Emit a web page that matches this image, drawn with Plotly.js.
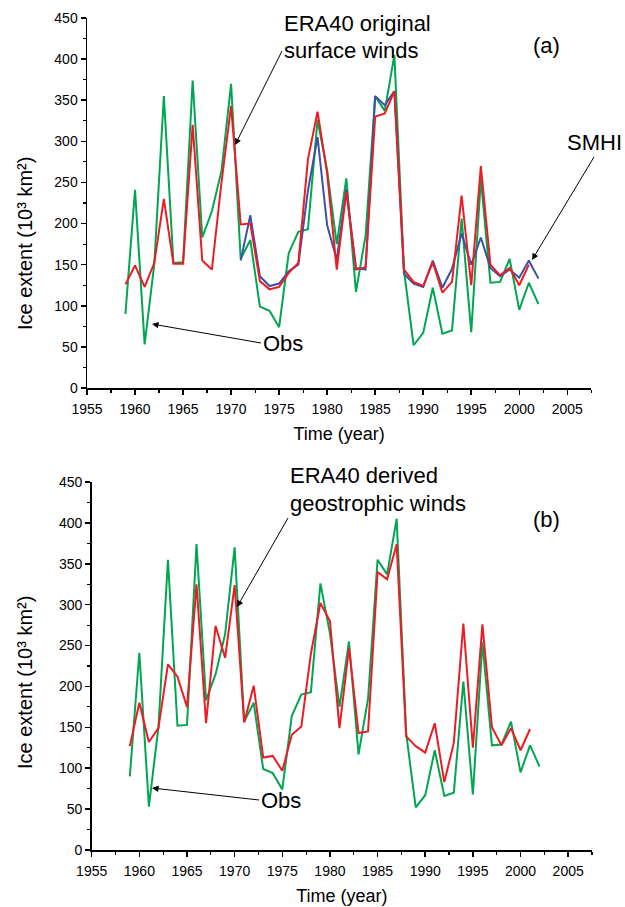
<!DOCTYPE html>
<html>
<head>
<meta charset="utf-8">
<script src="https://cdn.plot.ly/plotly-3.0.1.min.js"></script>
<style>html,body{margin:0;padding:0;background:#fff}#chart{width:625px;height:907px}</style>
</head>
<body>
<div id="chart"></div>
<script>
// ---- data ----
const years = [1959,1960,1961,1962,1963,1964,1965,1966,1967,1968,1969,1970,1971,1972,1973,1974,1975,1976,1977,1978,1979,1980,1981,1982,1983,1984,1985,1986,1987,1988,1989,1990,1991,1992,1993,1994,1995,1996,1997,1998,1999,2000,2001,2002];
const obs = [90,241,53,150,355,152,153,374,183,215,264,370,157,180,99,94,74,164,190,193,326,265,175,255,117,185,355,337,405,143,52,67,122,66,70,206,68,254,128,129,157,95,128,102];
const modelYears = [1959,1960,1961,1962,1963,1964,1965,1966,1967,1968,1969,1970,1971,1972,1973,1974,1975,1976,1977,1978,1979,1980,1981,1982,1983,1984,1985,1986,1987,1988,1989,1990,1991,1992,1993,1994,1995,1996,1997,1998,1999,2000,2001];
const era40Surface = [126,149,123,152,230,151,151,320,155,144,250,343,199,200,130,120,123,140,152,278,336,261,144,239,144,147,330,334,361,144,129,124,153,116,129,234,125,270,150,137,146,125,150];
const smhiYears = [1971,1972,1973,1974,1975,1976,1977,1978,1979,1980,1981,1982,1983,1984,1985,1986,1987,1988,1989,1990,1991,1992,1993,1994,1995,1996,1997,1998,1999,2000,2001,2002];
const smhi = [155,210,136,124,127,142,150,240,305,198,156,242,146,144,355,344,361,139,127,123,155,122,145,188,150,183,146,136,144,134,155,133];
const era40Geo = [127,180,132,149,227,212,175,325,155,274,235,324,156,201,113,115,97,141,151,240,302,280,149,247,143,145,340,331,374,139,127,119,155,83,131,277,125,276,150,128,149,122,148];
const xTickVals = [1955,1960,1965,1970,1975,1980,1985,1990,1995,2000,2005];
const yTickVals = [0,50,100,150,200,250,300,350,400,450];

// ---- geometry helpers (pixel -> paper) ----
const W = 625, H = 907, L = 87, R = 32, T = 18, B = 57;
const pw = W - L - R, ph = H - T - B;
const px = x => (x - L) / pw;
const py = y => (H - B - y) / ph;

const GREEN = '#00A651', RED = '#ED1C24', BLUE = '#3A53A4';
const FONT = 'Liberation Sans, Arial, sans-serif';

const traces = [
  {x: years, y: obs, xaxis: 'x', yaxis: 'y', mode: 'lines', line: {color: GREEN, width: 2}, name: 'Obs'},
  {x: smhiYears, y: smhi, xaxis: 'x', yaxis: 'y', mode: 'lines', line: {color: BLUE, width: 2}, name: 'SMHI'},
  {x: modelYears, y: era40Surface, xaxis: 'x', yaxis: 'y', mode: 'lines', line: {color: RED, width: 2}, name: 'ERA40 original surface winds'},
  {x: years, y: obs, xaxis: 'x2', yaxis: 'y2', mode: 'lines', line: {color: GREEN, width: 2}, name: 'Obs'},
  {x: modelYears, y: era40Geo, xaxis: 'x2', yaxis: 'y2', mode: 'lines', line: {color: RED, width: 2}, name: 'ERA40 derived geostrophic winds'}
];

function xAxis(domain, anchor) {
  return {
    domain: domain, anchor: anchor, range: [1955, 2007.5],
    tickmode: 'array', tickvals: xTickVals,
    showline: true, linecolor: 'black', linewidth: 1.5,
    ticks: 'outside', ticklen: 5, tickwidth: 1.5, tickcolor: 'black',
    minor: {dtick: 2.5, tick0: 1955, ticklen: 3, tickwidth: 1.2, tickcolor: 'black', ticks: 'outside'},
    showgrid: false, zeroline: false, ticklabelstandoff: 3,
    tickfont: {family: FONT, size: 14, color: 'black'},
    title: {text: 'Time (year)', font: {family: FONT, size: 18, color: 'black'}, standoff: 11}
  };
}
function yAxis(domain, anchor) {
  return {
    domain: domain, anchor: anchor, range: [0, 450],
    tickmode: 'array', tickvals: yTickVals,
    showline: true, linecolor: 'black', linewidth: 1.5,
    ticks: 'outside', ticklen: 5, tickwidth: 1.5, tickcolor: 'black',
    minor: {dtick: 25, tick0: 0, ticklen: 3, tickwidth: 1.2, tickcolor: 'black', ticks: 'outside'},
    showgrid: false, zeroline: false,
    tickfont: {family: FONT, size: 14, color: 'black'}
  };
}

// text label, optionally carrying an arrow: (tx,ty) = anchor point of the text box (arrow tail), (hx,hy) = arrow head
function label(text, tx, ty, xanchor, yanchor, head) {
  const a = {xref: 'paper', yref: 'paper', xanchor: xanchor, yanchor: yanchor,
             text: text, align: 'left', font: {family: FONT, size: 22, color: 'black'}};
  if (head) {
    a.x = px(head[0]); a.y = py(head[1]);
    a.ax = tx - head[0]; a.ay = ty - head[1];
    a.showarrow = true; a.arrowhead = 2; a.arrowsize = 1.3; a.arrowwidth = 1; a.arrowcolor = 'black';
  } else {
    a.x = px(tx); a.y = py(ty); a.showarrow = false;
  }
  return a;
}
function yTitle(y) {
  return {xref: 'paper', yref: 'paper', x: px(25), y: py(y), xanchor: 'center', yanchor: 'middle',
          textangle: -90, text: 'Ice extent (10\u00B3 km\u00B2)', showarrow: false,
          font: {family: FONT, size: 20, color: 'black'}};
}

const annotations = [
  label('ERA40 original', 282, 23, 'left', 'middle'),
  label('surface winds', 282, 51, 'left', 'middle', [235, 145]),
  label('(a)', 546, 45, 'center', 'middle'),
  label('SMHI', 594, 157, 'center', 'bottom', [532, 260]),
  label('Obs', 261, 343, 'left', 'middle', [152, 324]),
  yTitle(244),
  label('ERA40 derived', 288, 476, 'left', 'middle'),
  label('geostrophic winds', 288, 518, 'left', 'bottom', [237, 607]),
  label('(b)', 546, 519, 'center', 'middle'),
  label('Obs', 259, 800, 'left', 'middle', [152, 788]),
  yTitle(683)
];

const layout = {
  width: W, height: H,
  margin: {l: L, r: R, t: T, b: B},
  paper_bgcolor: 'white', plot_bgcolor: 'white',
  showlegend: false,
  font: {family: FONT, color: 'black'},
  xaxis: xAxis([0, px(591.3)], 'y'),
  yaxis: yAxis([py(388), py(18)], 'x'),
  xaxis2: xAxis([px(91.7), px(592)], 'y2'),
  yaxis2: yAxis([0, py(482)], 'x2'),
  annotations: annotations
};

Plotly.newPlot('chart', traces, layout, {displayModeBar: false, staticPlot: true});
</script>
</body>
</html>
